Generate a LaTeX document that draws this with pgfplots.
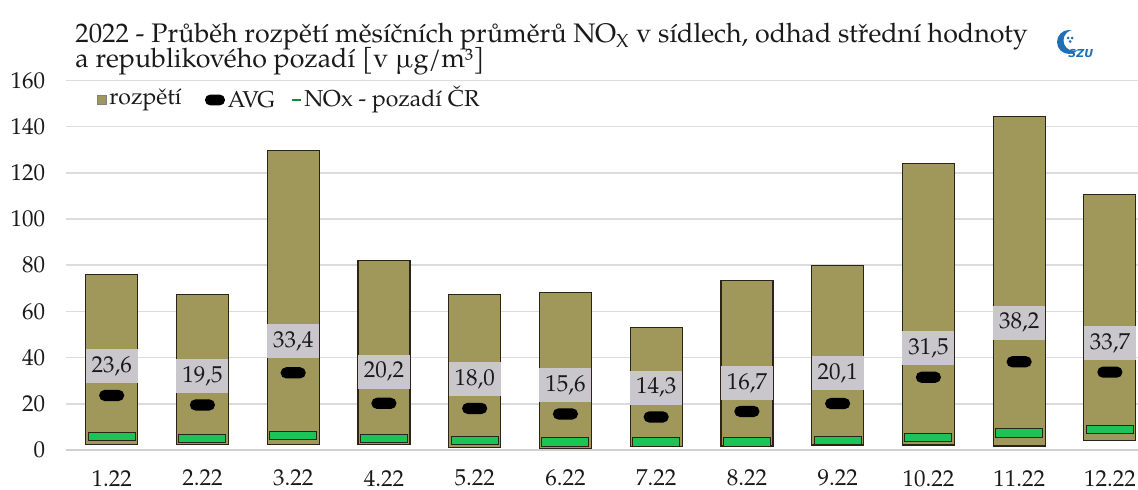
\documentclass[border=0pt]{standalone}
\usepackage{fontspec}
\setmainfont{texgyrepagella}[Extension=.otf, UprightFont=*-regular, BoldFont=*-bold, ItalicFont=*-italic, BoldItalicFont=*-bolditalic]
\newfontfamily\logofont{DejaVu Sans}
\usepackage{pgfplots}
\usepackage{pgfplotstable}
\pgfplotsset{compat=1.18}

\definecolor{cBar}{HTML}{9F985A}
\definecolor{cEdge}{HTML}{2B2418}
\definecolor{cNox}{HTML}{1DC357}
\definecolor{cLbl}{HTML}{C9C7CC}
\definecolor{cGrid}{HTML}{DCDCDC}
\definecolor{cAxis}{HTML}{D0D0D0}
\definecolor{cText}{HTML}{1A1A1A}
\definecolor{cLogo}{HTML}{1F6FB8}

% monthly range of NOx monthly means (min, max)
\pgfplotstableread{
x lo hi
0 2.5 75.9
1 2.5 67.4
2 2.5 129.6
3 2.5 82.0
4 1.2 67.4
5 0.7 68.1
6 1.4 53.0
7 1.7 73.2
8 2.2 79.8
9 2.2 123.9
10 1.7 144.3
11 4.0 110.7
}\rng

\pgfdeclareplotmark{noxbar}{%
  \pgfpathrectangle{\pgfqpoint{-11.75pt}{-2.1pt}}{\pgfqpoint{23.5pt}{4.2pt}}%
  \pgfusepathqfillstroke}
\pgfdeclareplotmark{avgpill}{%
  \pgfpathmoveto{\pgfqpoint{-3.5pt}{-2.8pt}}%
  \pgfpathlineto{\pgfqpoint{3.5pt}{-2.8pt}}%
  \pgfpatharc{-90}{90}{2.8pt}%
  \pgfpathlineto{\pgfqpoint{-3.5pt}{2.8pt}}%
  \pgfpatharc{90}{270}{2.8pt}%
  \pgfpathclose
  \pgfusepathqfill}

\pgfkeys{/pgf/number format/assume math mode=true}
\pgfplotsset{
  base/.style={at={(0pt,0pt)}, anchor=south west, scale only axis,
    width=535.85pt, height=184.8pt,
    xmin=-0.5, xmax=11.31, ymin=0, ymax=160}}

\begin{document}
\begin{tikzpicture}
\begin{axis}[base, ybar stacked, bar width=26pt,
    ytick={0,20,...,160}, xtick={0,...,11},
    xticklabels={1.22,2.22,3.22,4.22,5.22,6.22,7.22,8.22,9.22,10.22,11.22,12.22},
    ymajorgrids, grid style={draw=cGrid, line width=0.8pt},
    axis x line*=bottom, axis y line*=left,
    y axis line style={draw=none}, x axis line style={draw=cAxis, line width=1.3pt, -},
    major tick length=0pt,
    tick label style={font=\fontsize{11.5}{12}\selectfont, text=cText},
    yticklabel style={xshift=-7pt}, xticklabel style={yshift=-6.5pt}]
\addplot[draw=none, fill=none] table[x=x, y=lo] {\rng};
\addplot[fill=cBar, draw=cEdge, line width=0.6pt] table[x=x, y expr=\thisrow{hi}-\thisrow{lo}] {\rng};
\end{axis}

\begin{axis}[base, hide axis, clip=false]
% NOx background estimate
\addplot[only marks, mark=noxbar, mark options={fill=cNox, draw=cEdge, line width=0.5pt}]
  coordinates {(0,5.8) (1,5.0) (2,6.3) (3,5.0) (4,4.1) (5,3.5) (6,3.5) (7,3.4) (8,4.2) (9,5.4) (10,7.4) (11,8.9)};
% data labels (AVG value, placed above the marker)
\addplot[draw=none, point meta=explicit,
    nodes near coords={\pgfmathprintnumber[use comma,fixed,fixed zerofill,precision=1]{\pgfplotspointmeta}},
    nodes near coords style={anchor=center, fill=cLbl, minimum width=26pt, minimum height=17pt,
      inner sep=0pt, text=cText, font=\fontsize{11.5}{12}\selectfont}]
  coordinates {(0,36.2)[23.6] (1,32.0)[19.5] (2,47.2)[33.4] (3,33.9)[20.2] (4,30.6)[18.0] (5,28.1)[15.6]
    (6,27.0)[14.3] (7,28.9)[16.7] (8,33.2)[20.1] (9,44.0)[31.5] (10,55.1)[38.2] (11,46.3)[33.7]};
% AVG
\addplot[only marks, mark=avgpill, mark options={fill=black}]
  coordinates {(0,23.6) (1,19.5) (2,33.4) (3,20.2) (4,18.0) (5,15.6) (6,14.3) (7,16.7) (8,20.1) (9,31.5) (10,38.2) (11,33.7)};
\end{axis}

% title
\begin{scope}[every node/.style={anchor=base west, inner sep=0pt, text=cText, font=\fontsize{13.4}{14}\selectfont}]
\node[text depth=0pt] at (4.35pt,203.5pt) {2022 - Průběh rozpětí měsíčních průměrů NO\textsubscript{X} v sídlech, odhad střední hodnoty};
\node[text height=8.5pt] at (4.35pt,191pt) {a republikového pozadí [v µg/m³]};
\end{scope}

% legend
\begin{scope}[every node/.style={anchor=west, inner sep=0pt, text=cText, font=\fontsize{11.5}{12}\selectfont}]
\filldraw[fill=cBar, draw=gray, line width=0.4pt] (15.35pt,172.75pt) rectangle (19.85pt,177.25pt);
\node at (21.35pt,175pt) {rozpětí};
\fill[black, rounded corners=2.6pt] (69.35pt,172.3pt) rectangle (79.35pt,177.7pt);
\node at (80.5pt,175pt) {AVG};
\draw[cNox!70!black, line width=0.9pt] (112.6pt,175pt) -- (117.1pt,175pt);
\node at (118.85pt,175pt) {NOx - pozadí ČR};
\end{scope}

% logo
\fill[cLogo] (501.35pt,204pt) circle (6pt);
\fill[white] (503.85pt,204.8pt) circle (5.2pt);
\fill[cLogo] (500.9pt,206pt) circle (0.75pt) (502.9pt,206pt) circle (0.75pt) (501.9pt,204.2pt) circle (0.75pt);
\node[anchor=base west, inner sep=0pt, text=cLogo, font=\logofont\bfseries\itshape\fontsize{5.5}{5.5}\selectfont] at (500.85pt,196.2pt) {SZU};

\pgfresetboundingbox
\useasboundingbox (-33.15pt,-20pt) rectangle (535.85pt,225pt);
\end{tikzpicture}
\end{document}
